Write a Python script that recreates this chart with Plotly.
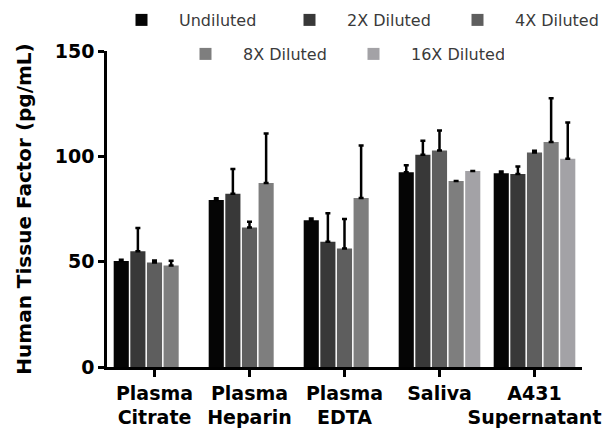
import plotly.graph_objects as go

categories = ["Plasma<br>Citrate", "Plasma<br>Heparin", "Plasma<br>EDTA", "Saliva", "A431<br>Supernatant"]
series_names = ["Undiluted", "2X Diluted", "4X Diluted", "8X Diluted", "16X Diluted"]

undiluted = [50.3, 79.3, 69.7, 92.5, 92.0]
undiluted_err = [0.6, 0.8, 0.8, 3.3, 0.8]
x2 = [55.0, 82.2, 59.4, 100.8, 91.6]
x2_err = [11.0, 11.8, 13.6, 6.6, 3.6]
x4 = [49.6, 66.2, 56.3, 102.8, 101.8]
x4_err = [0.9, 2.7, 13.9, 9.5, 0.9]
x8 = [48.2, 87.3, 80.2, 88.3, 106.8]
x8_err = [2.2, 23.5, 25.0, 0.0, 20.8]
x16 = [None, None, None, 93.0, 98.8]
x16_err = [0.0, 0.0, 0.0, 0.0, 17.3]

colors = ["#050505", "#383838", "#5e5e5e", "#7e7e7e", "#a3a2a6"]
values = [undiluted, x2, x4, x8, x16]
errors = [undiluted_err, x2_err, x4_err, x8_err, x16_err]
legend_ids = ["legend", "legend", "legend", "legend2", "legend2"]

fig = go.Figure()
for name, vals, errs, col, lg in zip(series_names, values, errors, colors, legend_ids):
    fig.add_trace(go.Bar(
        x=categories, y=vals, name=name,
        marker=dict(color=col, line=dict(width=0)),
        error_y=dict(type="data", array=errs, arrayminus=[0] * len(errs),
                     symmetric=False, color="black", thickness=2.5, width=2.5),
        legend=lg,
    ))

lab_font = "'DejaVu Sans', sans-serif"
ML, MR, MT, MB = 107, 25, 51, 67
W = 607 - ML - MR
H = 434 - MT - MB

leg_common = dict(orientation="h", xanchor="left", yanchor="middle",
                  font=dict(size=16, color="#3a3a3a", family=lab_font),
                  itemwidth=65, entrywidth=88, entrywidthmode="pixels",
                  bgcolor="rgba(0,0,0,0)", traceorder="normal")

fig.update_layout(
    width=607, height=434,
    margin=dict(l=ML, r=MR, t=MT, b=MB, autoexpand=False),
    plot_bgcolor="white", paper_bgcolor="white",
    barmode="group", bargap=0.125, bargroupgap=0.09,
    font=dict(family=lab_font, color="black"),
    legend=dict(x=(104 - ML) / W, y=1 + (MT - 20) / H, **leg_common),
    legend2=dict(x=(168 - ML) / W, y=1 + (MT - 54) / H, **leg_common),
    xaxis=dict(
        showline=True, linecolor="black", linewidth=2.5,
        ticks="outside", ticklen=7, tickwidth=2.5, tickcolor="black",
        tickangle=0,
        tickfont=dict(size=19, family=lab_font, color="black", weight="bold"),
        range=[-0.5, 4.5], automargin=False,
    ),
    yaxis=dict(
        range=[0, 150], tickvals=[0, 50, 100, 150],
        showline=True, linecolor="black", linewidth=2.5,
        ticks="outside", ticklen=6, tickwidth=2.5, tickcolor="black",
        showgrid=False, zeroline=False, automargin=False,
        tickfont=dict(size=19, family=lab_font, color="black", weight="bold"),
        title=dict(text="Human Tissue Factor (pg/mL)", standoff=18,
                   font=dict(size=20, family=lab_font, color="black", weight="bold")),
    ),
)

fig.write_html("out.html")
